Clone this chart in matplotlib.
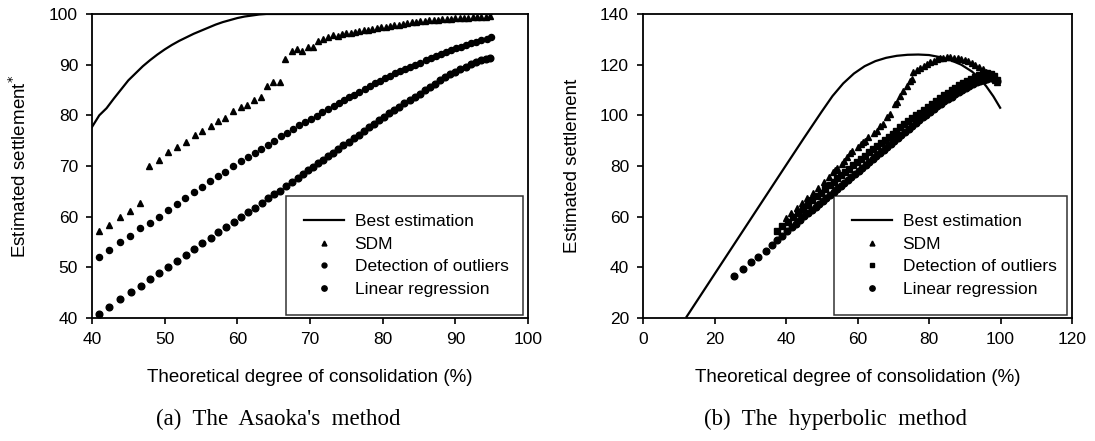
import matplotlib

matplotlib.use("Agg")
import matplotlib.pyplot as plt

plt.rcParams["font.family"] = ["Liberation Sans", "DejaVu Sans"]

# (a) Asaoka's method
a_best_x = [40, 41, 42, 43, 44, 45, 46, 47, 48, 49, 50, 51, 52, 53, 54, 55, 56, 57, 58, 59,
            60, 61, 62, 63, 64, 65, 70, 75, 80, 85, 90, 95]
a_best_y = [77.7, 80.0, 81.4, 83.3, 85.1, 86.9, 88.3, 89.7, 90.9, 92.0, 93.0, 93.9, 94.7, 95.4,
            96.1, 96.7, 97.3, 97.9, 98.4, 98.8, 99.2, 99.5, 99.7, 99.9, 100, 100, 100, 100,
            100, 100, 100, 100]

a_sdm_x = [41.0, 42.3, 43.9, 45.2, 46.6, 47.8, 49.2, 50.5, 51.7, 52.9, 54.2, 55.1, 56.4, 57.3,
           58.3, 59.4, 60.5, 61.3, 62.3, 63.2, 64.1, 64.9, 65.9, 66.5, 67.5, 68.2, 68.9, 69.7,
           70.4, 71.1, 71.8, 72.5, 73.2, 73.8, 74.4, 75.0, 75.6, 76.2, 76.8, 77.4, 78.0, 78.6,
           79.2, 79.8, 80.4, 81.0, 81.6, 82.2, 82.8, 83.4, 84.0, 84.6, 85.2, 85.8, 86.4, 87.0,
           87.6, 88.2, 88.8, 89.4, 90.0, 90.6, 91.2, 91.8, 92.4, 93.0, 93.6, 94.2, 94.8]
a_sdm_y = [57.2, 58.4, 60.0, 61.1, 62.7, 70.0, 71.2, 72.7, 73.8, 74.8, 76.1, 76.9, 77.9, 78.9,
           79.5, 80.9, 81.7, 82.1, 83.0, 83.6, 85.8, 86.6, 86.6, 91.2, 92.7, 93.1, 92.7, 93.5,
           93.5, 94.7, 95.1, 95.5, 95.9, 95.7, 96.0, 96.2, 96.3, 96.5, 96.6, 96.8, 96.9, 97.1,
           97.3, 97.4, 97.5, 97.7, 97.8, 97.9, 98.1, 98.2, 98.4, 98.5, 98.6, 98.7, 98.8, 98.8,
           98.9, 99.0, 99.0, 99.1, 99.2, 99.2, 99.3, 99.3, 99.4, 99.4, 99.5, 99.5, 99.6]

a_out_x = [41.0, 42.3, 43.9, 45.2, 46.6, 48.0, 49.2, 50.5, 51.7, 52.8, 54.0, 55.1, 56.2, 57.3,
           58.3, 59.4, 60.5, 61.5, 62.4, 63.3, 64.2, 65.1, 66.0, 66.9, 67.7, 68.5, 69.3, 70.1,
           70.9, 71.7, 72.5, 73.3, 74.0, 74.7, 75.4, 76.1, 76.8, 77.5, 78.2, 78.9, 79.6, 80.3,
           81.0, 81.7, 82.4, 83.1, 83.8, 84.5, 85.2, 85.9, 86.6, 87.3, 88.0, 88.7, 89.4, 90.1,
           90.8, 91.5, 92.2, 92.9, 93.6, 94.3, 94.9]
a_out_y = [52.1, 53.4, 55.0, 56.2, 57.8, 58.8, 60.0, 61.3, 62.5, 63.7, 64.9, 65.9, 67.1, 68.1,
           68.8, 70.0, 71.0, 71.8, 72.6, 73.4, 74.2, 75.0, 75.9, 76.6, 77.3, 78.0, 78.6, 79.3,
           79.9, 80.6, 81.2, 81.9, 82.5, 83.0, 83.6, 84.1, 84.7, 85.2, 85.8, 86.3, 86.8, 87.3,
           87.8, 88.3, 88.7, 89.1, 89.5, 90.0, 90.4, 90.9, 91.3, 91.7, 92.1, 92.5, 92.8, 93.2,
           93.5, 93.9, 94.2, 94.5, 94.9, 95.1, 95.4]

a_lin_x = [41.0, 42.3, 43.9, 45.4, 46.7, 48.0, 49.2, 50.5, 51.7, 52.9, 54.0, 55.1, 56.4, 57.3,
           58.4, 59.5, 60.5, 61.5, 62.4, 63.4, 64.2, 65.0, 65.9, 66.7, 67.5, 68.3, 69.0, 69.7,
           70.4, 71.1, 71.8, 72.5, 73.2, 73.9, 74.6, 75.3, 76.0, 76.7, 77.4, 78.1, 78.8, 79.5,
           80.2, 80.9, 81.6, 82.3, 83.0, 83.7, 84.4, 85.1, 85.8, 86.5, 87.2, 87.9, 88.6, 89.3,
           90.0, 90.7, 91.4, 92.1, 92.8, 93.5, 94.2, 94.8]
a_lin_y = [40.8, 42.2, 43.8, 45.2, 46.4, 47.7, 48.9, 50.1, 51.3, 52.5, 53.6, 54.8, 55.8, 57.0,
           58.0, 59.0, 60.0, 60.9, 61.7, 62.7, 63.7, 64.5, 65.1, 66.0, 66.8, 67.6, 68.4, 69.2,
           69.9, 70.6, 71.2, 71.9, 72.6, 73.4, 74.1, 74.8, 75.5, 76.2, 76.9, 77.6, 78.3, 79.0,
           79.7, 80.4, 81.0, 81.7, 82.4, 83.0, 83.7, 84.3, 85.0, 85.6, 86.2, 86.9, 87.5, 88.1,
           88.6, 89.1, 89.6, 90.1, 90.5, 90.9, 91.2, 91.4]

# (b) hyperbolic method
b_best_x = [12.2, 20, 30, 40, 45, 50, 53, 56, 59, 62, 65, 68, 71, 74, 77, 80, 83, 86, 89, 92,
            94, 96, 98, 99.9]
b_best_y = [20.5, 37.3, 58.8, 80.3, 91.0, 101.5, 107.6, 112.6, 116.5, 119.4, 121.4, 122.7,
            123.5, 123.9, 124.0, 123.8, 123.0, 121.8, 120.0, 117.3, 114.8, 111.5, 107.5, 103.0]

b_sdm_x = [40.0, 41.5, 43.0, 44.5, 46.0, 47.5, 49.0, 50.5, 52.0, 53.2, 53.8, 54.4, 55.6, 56.2,
           57.0, 57.9, 58.5, 60.0, 61.0, 61.5, 62.1, 63.0, 64.5, 65.5, 66.3, 67.0, 68.2, 69.0,
           70.5, 71.0, 72.0, 72.7, 73.8, 74.7, 75.2, 75.5, 76.6, 77.5, 78.5, 79.4, 80.3, 81.5,
           82.2, 83.0, 84.0, 85.0, 86.0, 87.0, 88.0, 89.0, 90.0, 91.0, 92.0, 93.0, 94.0, 95.0,
           96.0, 97.0, 97.8, 98.5, 99.0]
b_sdm_y = [59.5, 61.5, 63.5, 65.5, 67.5, 69.5, 71.5, 73.5, 75.6, 77.5, 78.5, 79.4, 80.8, 81.8,
           83.4, 85.3, 85.9, 87.5, 88.7, 89.3, 89.8, 91.3, 93.0, 94.0, 95.6, 96.5, 99.2, 100.5,
           104.4, 105.2, 107.5, 109.6, 111.5, 113.6, 114.5, 117.0, 117.8, 118.6, 119.5, 120.2,
           121.0, 121.4, 122.2, 122.5, 122.7, 122.9, 122.9, 122.8, 122.6, 122.3, 121.9, 121.4,
           120.8, 120.0, 119.2, 118.3, 117.3, 116.0, 115.0, 114.0, 113.0]

b_out_x = [37.5, 39.0, 40.5, 42.0, 43.4, 44.8, 46.1, 47.4, 48.6, 49.8, 51.0, 52.2, 53.3, 54.4,
           55.5, 56.6, 57.7, 58.8, 59.9, 61.0, 62.1, 63.2, 64.3, 65.4, 66.5, 67.6, 68.7, 69.8,
           70.9, 72.0, 73.1, 74.2, 75.3, 76.4, 77.5, 78.6, 79.7, 80.8, 81.9, 83.0, 84.1, 85.2,
           86.3, 87.4, 88.5, 89.6, 90.7, 91.8, 92.9, 94.0, 95.1, 96.2, 97.3, 98.3, 99.0]
b_out_y = [54.5, 56.3, 58.0, 59.8, 61.5, 63.2, 64.8, 66.4, 68.0, 69.5, 71.0, 72.5, 73.8, 75.1,
           76.4, 77.7, 79.0, 80.3, 81.6, 82.9, 84.1, 85.4, 86.6, 87.9, 89.1, 90.3, 91.5, 92.8,
           94.0, 95.2, 96.4, 97.6, 98.8, 100.0, 101.1, 102.3, 103.4, 104.6, 105.7, 106.8, 107.9,
           108.9, 109.9, 110.9, 111.8, 112.7, 113.6, 114.4, 115.2, 115.9, 116.4, 116.6, 116.3,
           115.4, 114.0]

b_lin_x = [25.5, 28.0, 30.2, 32.2, 34.4, 36.1, 37.6, 39.0, 40.3, 41.6, 42.8, 44.0, 45.1, 46.2,
           47.3, 48.3, 49.3, 50.3, 51.3, 52.3, 53.3, 54.3, 55.3, 56.3, 57.3, 58.3, 59.3, 60.3,
           61.3, 62.3, 63.3, 64.3, 65.3, 66.3, 67.3, 68.3, 69.3, 70.3, 71.3, 72.3, 73.3, 74.3,
           75.3, 76.3, 77.3, 78.3, 79.3, 80.3, 81.3, 82.3, 83.3, 84.3, 85.3, 86.3, 87.3, 88.3,
           89.3, 90.3, 91.3, 92.3, 93.3, 94.3, 95.3, 96.3, 97.3, 98.3, 99.0]
b_lin_y = [36.6, 39.4, 42.2, 44.2, 46.5, 48.9, 50.8, 52.5, 54.2, 55.8, 57.3, 58.8, 60.1, 61.4,
           62.6, 63.8, 65.0, 66.2, 67.4, 68.4, 69.6, 70.8, 72.0, 73.2, 74.4, 75.6, 76.8, 78.0,
           79.2, 80.4, 81.6, 82.8, 84.0, 85.2, 86.4, 87.6, 88.8, 90.0, 91.2, 92.3, 93.5, 94.7,
           95.8, 97.0, 98.1, 99.2, 100.3, 101.4, 102.5, 103.5, 104.5, 105.5, 106.5, 107.4,
           108.3, 109.2, 110.0, 110.8, 111.6, 112.3, 113.0, 113.6, 114.1, 114.5, 114.7, 114.5,
           113.5]

labels = ["Best estimation", "SDM", "Detection of outliers", "Linear regression"]

W, H = 1095, 441
fig = plt.figure(figsize=(W / 100, H / 100), dpi=100)


def px_axes(x0, x1, y0, y1):
    return fig.add_axes([x0 / W, 1 - y1 / H, (x1 - x0) / W, (y1 - y0) / H])


def style(ax):
    for s in ax.spines.values():
        s.set_linewidth(1.3)
    ax.tick_params(direction="out", length=4, width=1.2, labelsize=12.5, pad=6)


ms = 4.4
ax1 = px_axes(92, 528, 14, 318)
ax1.plot(a_best_x, a_best_y, "k-", lw=1.6, label=labels[0])
ax1.plot(a_sdm_x, a_sdm_y, "k^", ms=ms, ls="none", label=labels[1])
ax1.plot(a_out_x, a_out_y, "ko", ms=ms, ls="none", label=labels[2])
ax1.plot(a_lin_x, a_lin_y, "ko", ms=ms + 0.4, ls="none", label=labels[3])
ax1.set_xlim(40, 100)
ax1.set_ylim(40, 100)
ax1.set_xticks(range(40, 101, 10))
ax1.set_yticks(range(40, 101, 10))
ax1.set_xlabel("Theoretical degree of consolidation (%)", fontsize=13.5, labelpad=16)
ax1.set_ylabel("Estimated settlement$^{*}$", fontsize=13.5, labelpad=14)
style(ax1)

ax2 = px_axes(643, 1072, 14, 318)
ax2.plot(b_best_x, b_best_y, "k-", lw=1.6, label=labels[0])
ax2.plot(b_sdm_x, b_sdm_y, "k^", ms=ms, ls="none", label=labels[1])
ax2.plot(b_out_x, b_out_y, "ks", ms=ms - 0.4, ls="none", label=labels[2])
ax2.plot(b_lin_x, b_lin_y, "ko", ms=ms + 0.4, ls="none", label=labels[3])
ax2.set_xlim(0, 120)
ax2.set_ylim(20, 140)
ax2.set_xticks(range(0, 121, 20))
ax2.set_yticks(range(20, 141, 20))
ax2.set_xlabel("Theoretical degree of consolidation (%)", fontsize=13.5, labelpad=16)
ax2.set_ylabel("Estimated settlement", fontsize=13.5, labelpad=14)
style(ax2)

for ax, (x0, x1) in ((ax1, (286, 523)), (ax2, (834, 1067))):
    axw = ax.get_position().width * W
    ax0 = ax.get_position().x0 * W
    bx0 = (x0 - ax0) / axw
    bw = (x1 - x0) / axw
    leg = ax.legend(loc="lower left", bbox_to_anchor=(bx0, 0.01, bw, 0.39), mode="expand",
                    fontsize=12.5, frameon=True, fancybox=False, edgecolor="black",
                    handlelength=2.3, handletextpad=0.6, labelspacing=0.42,
                    borderpad=1.05, borderaxespad=0, markerscale=0.8)
    leg.get_frame().set_linewidth(1.1)

fig.text(278 / W, 1 - 419 / H, "(a)  The  Asaoka's  method", ha="center", va="center",
         family="Liberation Serif", fontsize=16.5)
fig.text(835 / W, 1 - 419 / H, "(b)  The  hyperbolic  method", ha="center", va="center",
         family="Liberation Serif", fontsize=16.5)

fig.savefig("out.png", dpi=100)
